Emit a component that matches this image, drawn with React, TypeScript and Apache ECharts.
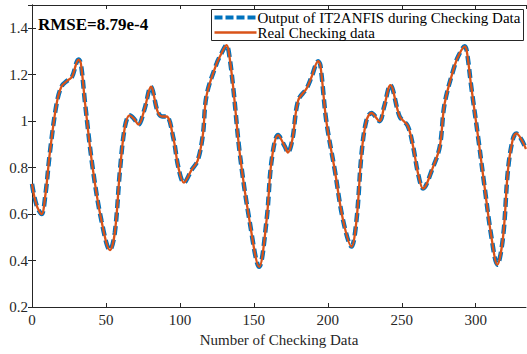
import React, { useEffect, useRef } from "react";
import * as echarts from "echarts";

const sampleIndex = [
  0, 3, 6.5, 9, 12, 16.5, 20, 24, 27, 31.5, 33, 36, 41, 47, 52.7, 56, 59.5, 62.8, 66, 69, 72, 76, 80.4, 85, 88, 91,
  95.5, 99, 102.7, 107.9, 112, 115.5, 118, 124.8, 128, 131.5, 133, 136, 140.5, 147, 153.6, 158.6, 162, 166.4, 171,
  173, 176, 180, 185.6, 189, 193.5, 195, 199, 204.7, 210.3, 216, 219.4, 222.8, 226, 229.5, 235, 238, 242.3, 248.6,
  254, 257.7, 261, 264.4, 271, 275.7, 279, 285.8, 289, 292.6, 294, 297, 301.6, 306, 310.6, 314.6, 318.5, 321.8, 325,
  327.5, 331, 334,
];
const realChecking = [
  0.73, 0.64, 0.6, 0.68, 0.86, 1.07, 1.15, 1.175, 1.19, 1.265, 1.25, 1.07, 0.8, 0.57, 0.445, 0.52, 0.79, 0.975, 1.025,
  1.01, 0.985, 1.05, 1.148, 1.04, 1.02, 1.02, 0.93, 0.8, 0.735, 0.79, 0.83, 0.94, 1.11, 1.248, 1.29, 1.327, 1.3, 1.148,
  0.86, 0.574, 0.373, 0.574, 0.83, 0.94, 0.89, 0.865, 0.92, 1.09, 1.14, 1.19, 1.258, 1.24, 1.0, 0.79, 0.574, 0.46,
  0.574, 0.86, 1.0, 1.035, 1.0, 1.06, 1.155, 1.02, 0.98, 0.89, 0.775, 0.71, 0.8, 0.89, 1.076, 1.24, 1.29, 1.322, 1.3,
  1.148, 0.932, 0.717, 0.502, 0.382, 0.502, 0.789, 0.92, 0.947, 0.92, 0.88,
];
const outputChecking = realChecking;

const seriesNames = ["Output of IT2ANFIS during Checking Data", "Real Checking data"];
const rmseText = "RMSE=8.79e-4";
const xName = "Number of Checking Data";
const xMin = 0;
const xMax = 334;
const xStep = 50;
const yMin = 0.2;
const yMax = 1.5;
const yStep = 0.2;

const FONT = "'Liberation Serif', 'Times New Roman', serif";
const AXIS = "#262626";

export default function App() {
  const ref = useRef<HTMLDivElement>(null);
  useEffect(() => {
    if (!ref.current) return;
    const chart = echarts.init(ref.current, null, { renderer: "svg" });
    const fmtX = (v: number) => (Math.abs(v % xStep) < 1e-9 ? String(v) : "");
    const fmtY = (v: number) => {
      const r = Math.round(v / yStep) * yStep;
      return Math.abs(r - v) < 1e-6 ? String(parseFloat(v.toFixed(1))) : "";
    };
    const baseAxisLine = { show: true, lineStyle: { color: AXIS, width: 1 } };
    const tick = { show: true, inside: true, length: 4, lineStyle: { color: AXIS, width: 1 } };
    const option: any = {
      animation: false,
      backgroundColor: "#ffffff",
      grid: { left: 32, right: 1, top: 5, bottom: 47, containLabel: false, outerBoundsMode: "none" },
      xAxis: [
        {
          type: "value",
          min: xMin,
          max: xMax,
          interval: xStep,
          position: "bottom",
          axisLine: baseAxisLine,
          axisTick: tick,
          splitLine: { show: false },
          axisLabel: {
            color: AXIS,
            fontFamily: FONT,
            fontSize: 15,
            margin: 5,
            formatter: fmtX,
            showMaxLabel: false,
          },
          name: xName,
          nameLocation: "middle",
          nameGap: 25,
          nameTextStyle: { color: AXIS, fontFamily: FONT, fontSize: 15 },
        },
        {
          type: "value",
          min: xMin,
          max: xMax,
          interval: xStep,
          position: "top",
          axisLine: baseAxisLine,
          axisTick: tick,
          splitLine: { show: false },
          axisLabel: { show: false },
        },
      ],
      yAxis: [
        {
          type: "value",
          min: yMin,
          max: yMax,
          interval: yStep,
          position: "left",
          axisLine: baseAxisLine,
          axisTick: tick,
          splitLine: { show: false },
          axisLabel: {
            color: AXIS,
            fontFamily: FONT,
            fontSize: 15,
            margin: 4,
            formatter: fmtY,
            showMaxLabel: false,
          },
        },
        {
          type: "value",
          min: yMin,
          max: yMax,
          interval: yStep,
          position: "right",
          axisLine: baseAxisLine,
          axisTick: tick,
          splitLine: { show: false },
          axisLabel: { show: false },
        },
      ],
      series: [
        {
          name: seriesNames[0],
          type: "line",
          xAxisIndex: 0,
          yAxisIndex: 0,
          data: sampleIndex.map((x, i) => [x, outputChecking[i]]),
          smooth: 0.35,
          symbol: "none",
          lineStyle: { color: "#0072BD", width: 4.5, type: [9, 4.5], cap: "butt" },
          itemStyle: { color: "#0072BD" },
          z: 2,
        },
        {
          name: seriesNames[1],
          type: "line",
          xAxisIndex: 0,
          yAxisIndex: 0,
          data: sampleIndex.map((x, i) => [x, realChecking[i]]),
          smooth: 0.35,
          symbol: "none",
          lineStyle: { color: "#D95319", width: 2.3 },
          itemStyle: { color: "#D95319" },
          z: 3,
        },
      ],
      graphic: [
        {
          type: "text",
          left: 38,
          top: 16,
          z: 100,
          style: {
            text: rmseText,
            fill: "#000",
            font: `bold 17px ${FONT}`,
          },
        },
        {
          type: "group",
          left: 211,
          top: 9,
          z: 100,
          children: [
            {
              type: "rect",
              shape: { x: 0, y: 0, width: 312, height: 31 },
              style: { fill: "#fff", stroke: AXIS, lineWidth: 1 },
            },
            {
              type: "line",
              shape: { x1: 3, y1: 8, x2: 45, y2: 8 },
              style: { stroke: "#0072BD", lineWidth: 4, lineDash: [8, 3] },
            },
            {
              type: "line",
              shape: { x1: 3, y1: 23, x2: 45, y2: 23 },
              style: { stroke: "#D95319", lineWidth: 2.3 },
            },
            {
              type: "text",
              x: 46,
              y: 8,
              style: {
                text: seriesNames[0],
                fill: "#000",
                font: `15px ${FONT}`,
                lineHeight: 13,
                verticalAlign: "middle",
              },
            },
            {
              type: "text",
              x: 46,
              y: 23,
              style: {
                text: seriesNames[1],
                fill: "#000",
                font: `15px ${FONT}`,
                lineHeight: 13,
                verticalAlign: "middle",
              },
            },
          ],
        },
      ],
    };
    chart.setOption(option);
    return () => chart.dispose();
  }, []);
  return (
    <div
      ref={ref}
      style={{ position: "fixed", left: 0, top: 0, width: 527, height: 354, background: "#fff" }}
    />
  );
}
